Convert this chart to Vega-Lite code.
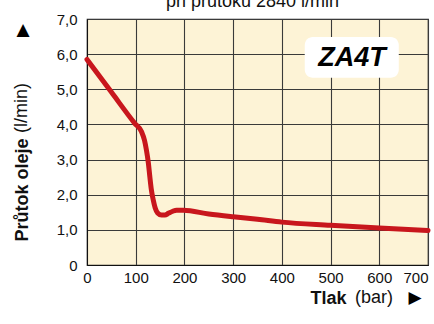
{
  "$schema": "https://vega.github.io/schema/vega-lite/v6.json",
  "width": 341,
  "height": 246,
  "autosize": {"type": "none"},
  "padding": {"left": 87, "top": 19, "right": 6, "bottom": 59},
  "background": "white",
  "config": {
    "font": "Liberation Sans",
    "view": {"fill": "#fdf3d6", "stroke": "#222", "strokeWidth": 1.2},
    "axis": {
      "labelFont": "Liberation Sans",
      "labelFontSize": 15,
      "labelColor": "#111",
      "gridColor": "#3a3a3a",
      "gridWidth": 1.1,
      "gridOpacity": 1,
      "domainColor": "#111",
      "ticks": false,
      "titleFont": "Liberation Sans",
      "titleFontSize": 18,
      "titleFontWeight": "bold",
      "titleColor": "#111"
    },
    "axisX": {
      "values": [0, 100, 200, 300, 400, 500, 600, 700],
      "grid": true,
      "labelFlush": false,
      "labelOverlap": false,
      "labelPadding": 5,
      "titleX": 223, "titleY": 33,
      "titleAlign": "left", "titleBaseline": "middle", "titleAnchor": null
    },
    "axisY": {
      "values": [0, 1, 2, 3, 4, 5, 6, 7],
      "grid": true,
      "labelExpr": "datum.value == 0 ? '0' : replace(format(datum.value, '.1f'), '.', ',')",
      "labelOverlap": false,
      "labelFlush": false,
      "labelPadding": 10,
      "titleAngle": -90,
      "titleX": -65, "titleY": 222,
      "titleAlign": "left", "titleBaseline": "middle", "titleAnchor": null
    }
  },
  "title": {
    "text": "při průtoku 2840 l/min",
    "font": "Liberation Sans",
    "fontSize": 18,
    "fontWeight": "normal",
    "color": "#111",
    "anchor": "middle",
    "offset": 1,
    "dx": -5
  },
  "data": {
    "values": [
      {"tlak": 0, "prutok": 5.85},
      {"tlak": 50, "prutok": 4.92},
      {"tlak": 98, "prutok": 4.03},
      {"tlak": 112, "prutok": 3.79},
      {"tlak": 118, "prutok": 3.55},
      {"tlak": 122, "prutok": 3.27},
      {"tlak": 126, "prutok": 2.9},
      {"tlak": 129, "prutok": 2.51},
      {"tlak": 132, "prutok": 2.15},
      {"tlak": 136, "prutok": 1.85},
      {"tlak": 140, "prutok": 1.62},
      {"tlak": 145, "prutok": 1.48},
      {"tlak": 153, "prutok": 1.42},
      {"tlak": 160, "prutok": 1.42},
      {"tlak": 167, "prutok": 1.47},
      {"tlak": 176, "prutok": 1.53},
      {"tlak": 184, "prutok": 1.56},
      {"tlak": 198, "prutok": 1.56},
      {"tlak": 250, "prutok": 1.45},
      {"tlak": 300, "prutok": 1.37},
      {"tlak": 350, "prutok": 1.3},
      {"tlak": 400, "prutok": 1.22},
      {"tlak": 500, "prutok": 1.13},
      {"tlak": 600, "prutok": 1.05},
      {"tlak": 700, "prutok": 0.98}
    ]
  },
  "layer": [
    {
      "mark": {"type": "line", "color": "#c8161d", "strokeWidth": 5, "strokeCap": "round", "strokeJoin": "round", "interpolate": "monotone"},
      "encoding": {
        "x": {
          "field": "tlak", "type": "quantitative",
          "scale": {"domain": [0, 700], "nice": false},
          "axis": {
            "values": [0, 100, 200, 300, 400, 500, 600, 700],
            "labelAlign": {"condition": {"test": "datum.value == 700", "value": "right"}, "value": "center"},
            "title": "Tlak"
          }
        },
        "y": {
          "field": "prutok", "type": "quantitative",
          "scale": {"domain": [0, 7], "nice": false},
          "axis": {
            "values": [0, 1, 2, 3, 4, 5, 6, 7],
            "title": "Průtok oleje"
          }
        }
      }
    },
    {
      "data": {"values": [{"label": "ZA4T"}]},
      "mark": {"type": "rect", "fill": "white", "cornerRadius": 8},
      "encoding": {
        "x": {"datum": 447, "type": "quantitative", "axis": {"values": [0, 100, 200, 300, 400, 500, 600, 700], "title": "Tlak"}}, "x2": {"datum": 640},
        "y": {"datum": 6.49, "type": "quantitative", "axis": {"values": [0, 1, 2, 3, 4, 5, 6, 7], "title": "Průtok oleje"}}, "y2": {"datum": 5.33}
      }
    },
    {
      "data": {"values": [{"label": "ZA4T"}]},
      "mark": {"type": "text", "font": "Liberation Sans", "fontSize": 27, "fontWeight": "bold", "fontStyle": "italic", "color": "#000", "align": "center", "baseline": "middle"},
      "encoding": {
        "text": {"field": "label"},
        "x": {"datum": 544, "type": "quantitative", "axis": {"values": [0, 100, 200, 300, 400, 500, 600, 700], "title": "Tlak"}},
        "y": {"datum": 5.9, "type": "quantitative", "axis": {"values": [0, 1, 2, 3, 4, 5, 6, 7], "title": "Průtok oleje"}}
      }
    },
    {
      "data": {"values": [{"t": "(l/min)"}]},
      "mark": {"type": "text", "font": "Liberation Sans", "fontSize": 18, "fontWeight": 400, "angle": -90, "align": "left", "baseline": "middle", "color": "#111"},
      "encoding": {"text": {"field": "t"}, "x": {"value": -65}, "y": {"value": 114}}
    },
    {
      "data": {"values": [{"t": "▲"}]},
      "mark": {"type": "text", "font": "DejaVu Sans", "fontSize": 17, "align": "center", "baseline": "middle", "color": "#000"},
      "encoding": {"text": {"field": "t"}, "x": {"value": -64}, "y": {"value": 11}}
    },
    {
      "data": {"values": [{"t": "(bar)"}]},
      "mark": {"type": "text", "font": "Liberation Sans", "fontSize": 18, "fontWeight": 400, "align": "left", "baseline": "middle", "color": "#111"},
      "encoding": {"text": {"field": "t"}, "x": {"value": 268}, "y": {"value": 279}}
    },
    {
      "data": {"values": [{"t": "▶"}]},
      "mark": {"type": "text", "font": "DejaVu Sans", "fontSize": 17, "align": "center", "baseline": "middle", "color": "#000"},
      "encoding": {"text": {"field": "t"}, "x": {"value": 328}, "y": {"value": 279}}
    }
  ]
}
